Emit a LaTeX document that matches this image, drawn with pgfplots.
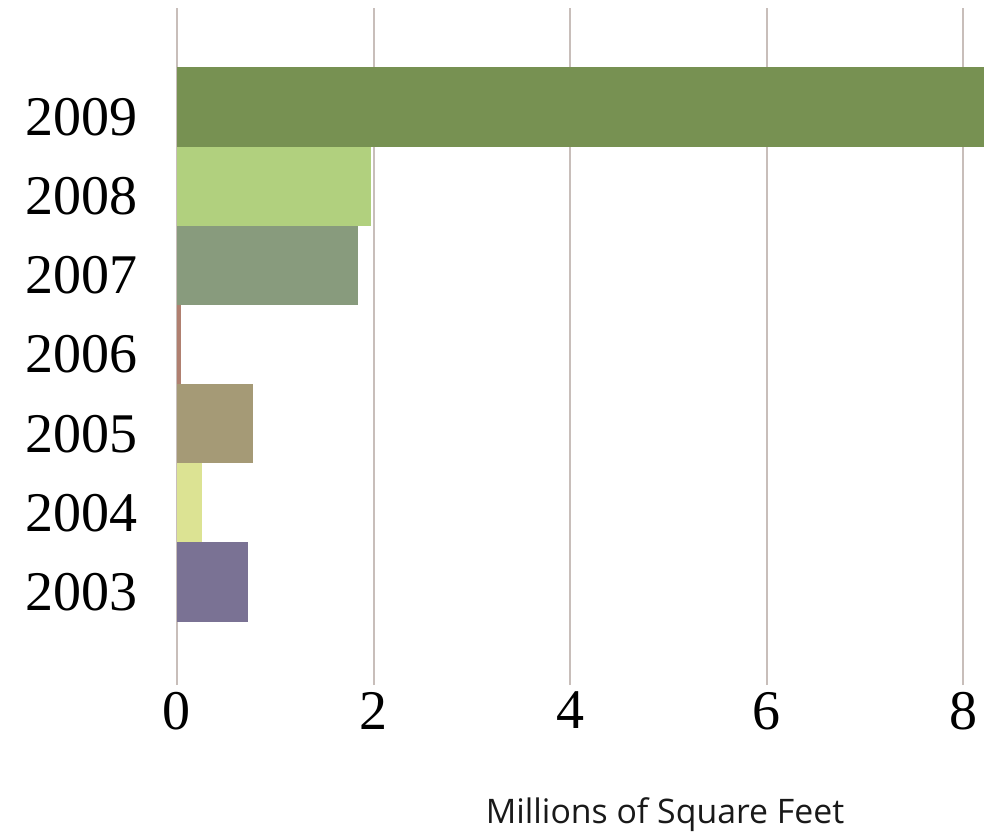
\documentclass[border=0pt]{standalone}
\usepackage{pgfplots}
\pgfplotsset{compat=1.18}
\usepackage{fontspec}
\setmainfont{Liberation Serif}
\newfontfamily\labelfont{Open Sans}
\definecolor{c2009}{HTML}{779152}
\definecolor{c2008}{HTML}{B1D07E}
\definecolor{c2007}{HTML}{889B7D}
\definecolor{c2006}{HTML}{B08070}
\definecolor{c2005}{HTML}{A59A76}
\definecolor{c2004}{HTML}{DCE393}
\definecolor{c2003}{HTML}{7A7294}
\definecolor{gridc}{RGB}{200,190,186}
\begin{document}
\begin{tikzpicture}
\useasboundingbox (0,0) rectangle (492pt,417.5pt);
\begin{axis}[
  at={(88.5pt,75pt)}, anchor=south west,
  scale only axis, width=403.5pt, height=338.5pt,
  xbar, bar width=1, bar shift=0pt,
  xmin=0, xmax=8.21, ymin=-1.3, ymax=7.25,
  axis line style={draw=none},
  xtick={0,2,4,6,8},
  ytick={0,1,2,3,4,5,6},
  yticklabels={2003,2004,2005,2006,2007,2008,2009},
  major tick length=0pt,
  xmajorgrids, major grid style={gridc, line width=1pt},
  /pgf/number format/assume math mode=true,
  ticklabel style={font=\fontsize{28}{31}\selectfont},
  yticklabel style={xshift=-16pt, yshift=-5pt},
  xticklabel style={yshift=0pt},
  clip=true,
]
\addplot[fill=c2003, draw=none] coordinates {(0.72,0)};
\addplot[fill=c2004, draw=none] coordinates {(0.25,1)};
\addplot[fill=c2005, draw=none] coordinates {(0.77,2)};
\addplot[fill=c2006, draw=none] coordinates {(0.04,3)};
\addplot[fill=c2007, draw=none] coordinates {(1.84,4)};
\addplot[fill=c2008, draw=none] coordinates {(1.97,5)};
\addplot[fill=c2009, draw=none] coordinates {(8.40,6)};
\end{axis}
\node[text=black!90] at (332.5pt,10pt) {\labelfont\fontsize{16.9}{19}\selectfont Millions of Square Feet};
\end{tikzpicture}
\end{document}
